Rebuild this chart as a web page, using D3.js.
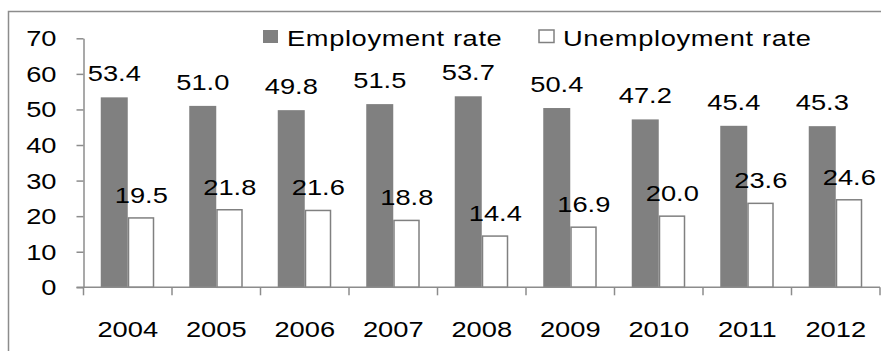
<!DOCTYPE html>
<html>
<head>
<meta charset="utf-8">
<script src="https://cdn.jsdelivr.net/npm/d3@7"></script>
<style>
  html, body { margin: 0; padding: 0; background: #fff; }
  svg { display: block; }
  text { font-family: Arial, "Liberation Sans", sans-serif; fill: #000; }
</style>
</head>
<body>
<svg id="chart" width="881" height="351"></svg>
<script>
const years = ["2004", "2005", "2006", "2007", "2008", "2009", "2010", "2011", "2012"];
const employmentRate = [53.4, 51.0, 49.8, 51.5, 53.7, 50.4, 47.2, 45.4, 45.3];
const unemploymentRate = [19.5, 21.8, 21.6, 18.8, 14.4, 16.9, 20.0, 23.6, 24.6];
const yTicks = [0, 10, 20, 30, 40, 50, 60, 70];
const seriesNames = ["Employment rate", "Unemployment rate"];

const W = 881, H = 351;
const svg = d3.select("#chart");
const grey = "#808080";
const axisGrey = "#8c8c8c";
const fontSize = 22;
const stretch = 1.24;

// outer frame
svg.append("rect")
  .attr("x", 8.5).attr("y", 11.5)
  .attr("width", W).attr("height", H)
  .attr("fill", "none").attr("stroke", axisGrey).attr("stroke-width", 1.5);

const plot = { left: 83.5, right: 880, top: 38.3, bottom: 287.3 };

const x = d3.scaleBand().domain(years).range([plot.left, plot.right]).paddingInner(0).paddingOuter(0);
const y = d3.scaleLinear().domain([0, 70]).range([plot.bottom, plot.top]);

const barW = 27;
const pairOffset = (x.bandwidth() - 2 * barW) / 2;

function stretchedText(g, tx, ty, str, anchor) {
  return g.append("text")
    .attr("transform", `translate(${tx},${ty}) scale(${stretch},1)`)
    .attr("text-anchor", anchor)
    .attr("font-size", fontSize)
    .text(str);
}

// employment bars
svg.append("g").selectAll("rect")
  .data(years)
  .join("rect")
  .attr("x", d => x(d) + pairOffset)
  .attr("y", (d, i) => y(employmentRate[i]))
  .attr("width", barW)
  .attr("height", (d, i) => y(0) - y(employmentRate[i]))
  .attr("fill", grey);

// unemployment bars
svg.append("g").selectAll("rect")
  .data(years)
  .join("rect")
  .attr("x", d => x(d) + pairOffset + barW + 0.75)
  .attr("y", (d, i) => y(unemploymentRate[i]))
  .attr("width", barW - 2)
  .attr("height", (d, i) => y(0) - y(unemploymentRate[i]))
  .attr("fill", "#fff")
  .attr("stroke", grey)
  .attr("stroke-width", 1.5);

// value labels
const labels = svg.append("g");
years.forEach((yr, i) => {
  stretchedText(labels, x(yr) + pairOffset + barW / 2, y(employmentRate[i]) - 16,
    employmentRate[i].toFixed(1), "middle");
  stretchedText(labels, x(yr) + pairOffset + barW * 1.5, y(unemploymentRate[i]) - 15,
    unemploymentRate[i].toFixed(1), "middle");
});

// y axis
const yAxis = svg.append("g")
  .attr("transform", `translate(${plot.left},0)`)
  .call(d3.axisLeft(y).tickValues(yTicks).tickSize(7).tickSizeOuter(0).tickFormat(""));
yAxis.selectAll("path, line").attr("stroke", axisGrey).attr("stroke-width", 1.5);
yTicks.forEach(t => {
  stretchedText(svg, plot.left - 27, y(t) + 8, String(t), "end");
});

// x axis with ticks on the category boundaries
const xAxis = svg.append("g")
  .attr("transform", `translate(0,${plot.bottom})`);
xAxis.append("line")
  .attr("x1", plot.left - 7).attr("x2", plot.right)
  .attr("stroke", axisGrey).attr("stroke-width", 1.5);
const boundaries = years.map(d => x(d)).concat([x(years[years.length - 1]) + x.bandwidth()]);
xAxis.selectAll("line.tick")
  .data(boundaries)
  .join("line")
  .attr("class", "tick")
  .attr("x1", d => d).attr("x2", d => d)
  .attr("y1", 0).attr("y2", 8)
  .attr("stroke", axisGrey).attr("stroke-width", 1.5);
years.forEach(yr => {
  stretchedText(svg, x(yr) + x.bandwidth() / 2, 337, yr, "middle");
});

// legend
const legend = svg.append("g");
legend.append("rect").attr("x", 263).attr("y", 30).attr("width", 15).attr("height", 13).attr("fill", grey);
stretchedText(legend, 287, 46, seriesNames[0], "start").attr("letter-spacing", 0.5);
legend.append("rect").attr("x", 539).attr("y", 30).attr("width", 15).attr("height", 12.5)
  .attr("fill", "#fff").attr("stroke", grey).attr("stroke-width", 1.5);
stretchedText(legend, 563, 46, seriesNames[1], "start").attr("letter-spacing", 0.5);
</script>
</body>
</html>
